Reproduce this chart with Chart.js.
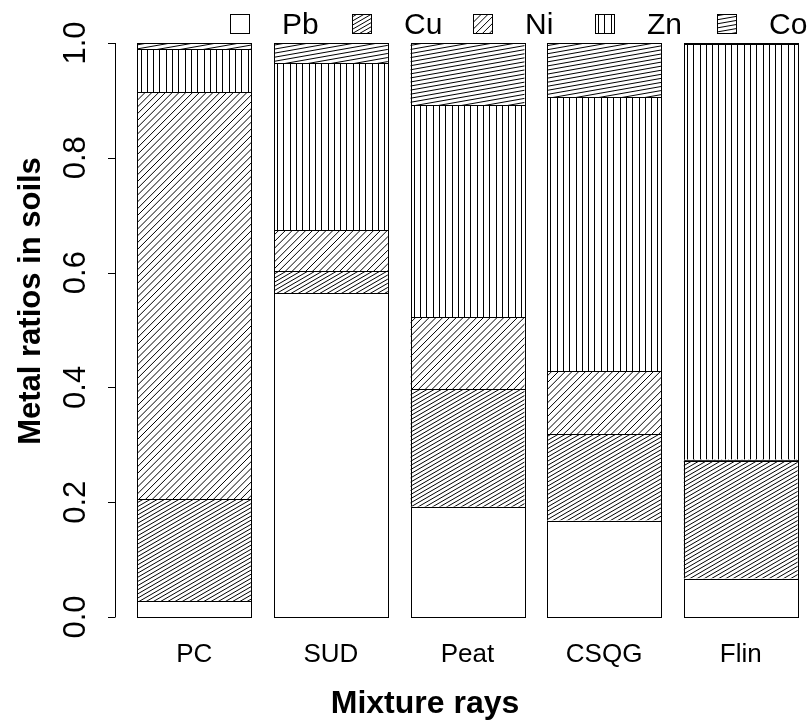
<!DOCTYPE html>
<html>
<head>
<meta charset="utf-8">
<script src="https://cdn.jsdelivr.net/npm/chart.js@4/dist/chart.umd.min.js"></script>
<style>
  html, body { margin: 0; padding: 0; background: #fff; }
  #wrap { width: 809px; height: 721px; }
</style>
</head>
<body>
<div id="wrap"><canvas id="metalChart" width="809" height="721"></canvas></div>
<script>
// soil mixtures and the share of each metal (columns add up to 1)
const mixtures = ["PC", "SUD", "Peat", "CSQG", "Flin"];
const metals = ["Pb", "Cu", "Ni", "Zn", "Co"];
const pb = [0.028, 0.564, 0.192, 0.168, 0.067];
const cu = [0.177, 0.039, 0.205, 0.151, 0.205];
const ni = [0.709, 0.071, 0.125, 0.109, 0.002];
const zn = [0.075, 0.291, 0.370, 0.478, 0.724];
const co = [0.011, 0.035, 0.108, 0.094, 0.002];
const yTicks = [0, 0.2, 0.4, 0.6, 0.8, 1.0];

// hatching per metal: angle in degrees (null = plain) and line gap in px
const hatchAngle = [null, 30, 45, 90, 10];
const hatchGap = [0, 3.6, 4.8, 6.3, 4.0];

const FONT = "'Liberation Sans', Arial, Helvetica, sans-serif";

// fill a rectangle with parallel lines, R style
function hatchRect(ctx, x, y, w, h, angle, gap) {
  if (angle === null || w <= 0 || h <= 0) return;
  ctx.save();
  ctx.beginPath();
  ctx.rect(x, y, w, h);
  ctx.clip();
  ctx.strokeStyle = "#000";
  ctx.lineWidth = 1;
  ctx.beginPath();
  if (angle === 90) {
    for (let lx = x + gap / 2; lx < x + w; lx += gap) {
      ctx.moveTo(Math.round(lx) + 0.5, y);
      ctx.lineTo(Math.round(lx) + 0.5, y + h);
    }
  } else {
    const t = angle * Math.PI / 180;
    const ux = Math.cos(t), uy = -Math.sin(t);   // along the line
    const nx = Math.sin(t), ny = Math.cos(t);    // normal
    const corners = [[x, y], [x + w, y], [x, y + h], [x + w, y + h]];
    const proj = corners.map(c => c[0] * nx + c[1] * ny);
    const kMin = Math.floor(Math.min(...proj) / gap);
    const kMax = Math.ceil(Math.max(...proj) / gap);
    const L = w + h + 50;
    for (let k = kMin; k <= kMax; k++) {
      const px = nx * k * gap, py = ny * k * gap;
      const s = (x + w / 2 - px) * ux + (y + h / 2 - py) * uy;
      const cx = px + ux * s, cy = py + uy * s;
      ctx.moveTo(cx - ux * L, cy - uy * L);
      ctx.lineTo(cx + ux * L, cy + uy * L);
    }
  }
  ctx.stroke();
  ctx.restore();
}

// hatch each bar after its dataset is drawn, then outline it
const hatchPlugin = {
  id: "hatch",
  afterDatasetDraw(chart, args) {
    const i = args.index;
    const ctx = chart.ctx;
    args.meta.data.forEach(bar => {
      const p = bar.getProps(["x", "y", "base", "width"], true);
      const left = p.x - p.width / 2;
      const top = Math.min(p.y, p.base);
      const h = Math.abs(p.base - p.y);
      hatchRect(ctx, left, top, p.width, h, hatchAngle[i], hatchGap[i]);
      ctx.save();
      ctx.strokeStyle = "#000";
      ctx.lineWidth = 1;
      ctx.strokeRect(Math.round(left) + 0.5, Math.round(top) + 0.5, Math.round(p.width), Math.round(h));
      ctx.restore();
    });
  }
};

// left axis drawn outside the plot area, axis titles and the legend row
const decorPlugin = {
  id: "decor",
  afterDraw(chart) {
    const ctx = chart.ctx;
    const ys = chart.scales.y;
    const axisX = chart.chartArea.left - 11;
    ctx.save();
    ctx.strokeStyle = "#000";
    ctx.lineWidth = 1;
    ctx.beginPath();
    ctx.moveTo(axisX + 0.5, ys.getPixelForValue(yTicks[0]));
    ctx.lineTo(axisX + 0.5, ys.getPixelForValue(yTicks[yTicks.length - 1]));
    yTicks.forEach(v => {
      const py = Math.round(ys.getPixelForValue(v)) + 0.5;
      ctx.moveTo(axisX + 0.5, py);
      ctx.lineTo(axisX - 7, py);
    });
    ctx.stroke();

    ctx.fillStyle = "#000";
    ctx.textAlign = "center";
    ctx.textBaseline = "middle";
    yTicks.forEach(v => {
      ctx.save();
      ctx.translate(76, ys.getPixelForValue(v));
      ctx.rotate(-Math.PI / 2);
      ctx.font = "31px " + FONT;
      ctx.fillText(v.toFixed(1), 0, 0);
      ctx.restore();
    });

    ctx.font = "bold 31px " + FONT;
    ctx.save();
    ctx.translate(31, 301);
    ctx.rotate(-Math.PI / 2);
    ctx.fillText("Metal ratios in soils", 0, 0);
    ctx.restore();
    ctx.font = "bold 32px " + FONT;
    ctx.fillText("Mixture rays", 425, 704);

    // legend row, evenly spaced like R's horizontal legend
    ctx.font = "30px " + FONT;
    ctx.textAlign = "left";
    const box = 19, ly = 14, step = 121.7;
    metals.forEach((m, i) => {
      const lx = Math.round(230 + i * step);
      ctx.fillStyle = "#fff";
      ctx.fillRect(lx, ly, box, box);
      hatchRect(ctx, lx, ly, box, box, hatchAngle[i], hatchGap[i]);
      ctx.strokeStyle = "#000";
      ctx.strokeRect(lx + 0.5, ly + 0.5, box, box);
      ctx.fillStyle = "#000";
      ctx.fillText(m, lx + 52, ly + box / 2 + 2);
    });
    ctx.restore();
  }
};

const seriesValues = [pb, cu, ni, zn, co];

new Chart(document.getElementById("metalChart"), {
  type: "bar",
  data: {
    labels: mixtures,
    datasets: metals.map((m, i) => ({
      label: m,
      data: seriesValues[i],
      backgroundColor: "#fff",
      borderColor: "#000",
      borderWidth: 0,
      barPercentage: 1 / 1.2,
      categoryPercentage: 1
    }))
  },
  options: {
    responsive: false,
    animation: false,
    layout: { padding: { top: 43, left: 126, right: 0, bottom: 0 } },
    plugins: { legend: { display: false }, tooltip: { enabled: false } },
    scales: {
      x: {
        stacked: true,
        grid: { display: false, drawTicks: false },
        border: { display: false },
        ticks: { color: "#000", font: { family: FONT, size: 26 }, padding: 22 },
        afterFit(scale) { scale.height = 104; }
      },
      y: {
        stacked: true,
        display: false,
        min: 0,
        max: 1
      }
    }
  },
  plugins: [hatchPlugin, decorPlugin]
});
</script>
</body>
</html>
